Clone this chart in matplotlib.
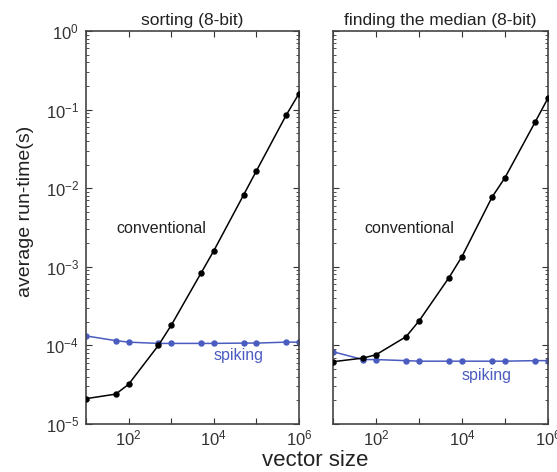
import matplotlib
matplotlib.use("Agg")
import matplotlib.pyplot as plt
import numpy as np
from matplotlib.ticker import LogLocator, NullFormatter, NullLocator

plt.rcParams['font.family'] = ['Liberation Sans', 'DejaVu Sans']
plt.rcParams['mathtext.default'] = 'regular'

sizes = [10, 50, 100, 500, 1000, 5000, 1e4, 5e4, 1e5, 5e5, 1e6]
sort_conv = [2.1e-5, 2.4e-5, 3.2e-5, 1.0e-4, 1.8e-4, 8.3e-4, 1.6e-3, 8.2e-3, 1.66e-2, 8.5e-2, 1.6e-1]
sort_spk = [1.32e-4, 1.15e-4, 1.1e-4, 1.06e-4, 1.06e-4, 1.06e-4, 1.06e-4, 1.07e-4, 1.07e-4, 1.1e-4, 1.1e-4]
med_conv = [6.2e-5, 6.9e-5, 7.6e-5, 1.29e-4, 2.04e-4, 7.3e-4, 1.35e-3, 7.7e-3, 1.36e-2, 6.9e-2, 1.4e-1]
med_spk = [8.3e-5, 6.6e-5, 6.6e-5, 6.4e-5, 6.3e-5, 6.3e-5, 6.3e-5, 6.3e-5, 6.3e-5, 6.4e-5, 6.4e-5]
titles = ["sorting (8-bit)", "finding the median (8-bit)"]
xticks = [10, 1e2, 1e3, 1e4, 1e5, 1e6]
xticklabels = ['', '$10^2$', '', '$10^4$', '', '$10^6$']
yticks = [1e-5, 1e-4, 1e-3, 1e-2, 1e-1, 1]
yticklabels = ['$10^{-5}$', '$10^{-4}$', '$10^{-3}$', '$10^{-2}$', '$10^{-1}$', '$10^{0}$']

blue = '#4a5cc0'
fig = plt.figure(figsize=(5.57, 4.72), dpi=100)
ax1 = fig.add_axes([0.1544, 0.1017, 0.3824, 0.8326])
ax2 = fig.add_axes([0.5978, 0.1017, 0.386, 0.8326])

for ax, conv, spk, title, spk_lab in [
    (ax1, sort_conv, sort_spk, titles[0], (3.8e4, 7.4e-5)),
    (ax2, med_conv, med_spk, titles[1], (3.7e4, 4.1e-5)),
]:
    ax.plot(sizes, conv, '-o', color='black', lw=1.1, ms=3.6, zorder=3)
    ax.plot(sizes, spk, '-o', color=blue, lw=1.1, ms=3.6, zorder=2)
    ax.set_xscale('log')
    ax.set_yscale('log')
    ax.set_xlim(10, 1e6)
    ax.set_ylim(1e-5, 1)
    ax.set_xticks(xticks)
    ax.set_xticklabels(xticklabels)
    ax.xaxis.set_minor_locator(NullLocator())
    ax.set_yticks(yticks)
    ax.yaxis.set_minor_locator(LogLocator(base=10, subs=np.arange(2, 10) * 1.0, numticks=20))
    ax.yaxis.set_minor_formatter(NullFormatter())
    ax.tick_params(which='both', direction='in', top=True, right=True, labelsize=12, colors='#333333')
    ax.tick_params(which='major', length=4, width=0.8)
    ax.tick_params(axis='x', which='major', pad=3)
    ax.tick_params(axis='y', which='major', pad=5)
    ax.tick_params(which='minor', length=2, width=0.6)
    for s in ax.spines.values():
        s.set_linewidth(1.2)
        s.set_color('#444444')
    ax.set_title(title, fontsize=12.5, pad=4, color='#222222')
    ax.text(600, 3.1e-3, 'conventional', fontsize=11.5, ha='center', va='center', color='#222222')
    ax.text(spk_lab[0], spk_lab[1], 'spiking', fontsize=11.5, ha='center', va='center', color=blue)

ax1.set_yticklabels(yticklabels)
ax2.set_yticklabels([])
ax1.set_ylabel('average run-time(s)', fontsize=14, color='#222222')
ax1.yaxis.set_label_coords(-0.244, 0.54)
fig.text(0.5655, 0.013, 'vector size', fontsize=16, ha='center', va='baseline', color='#222222')

fig.savefig('out.png', dpi=100)
